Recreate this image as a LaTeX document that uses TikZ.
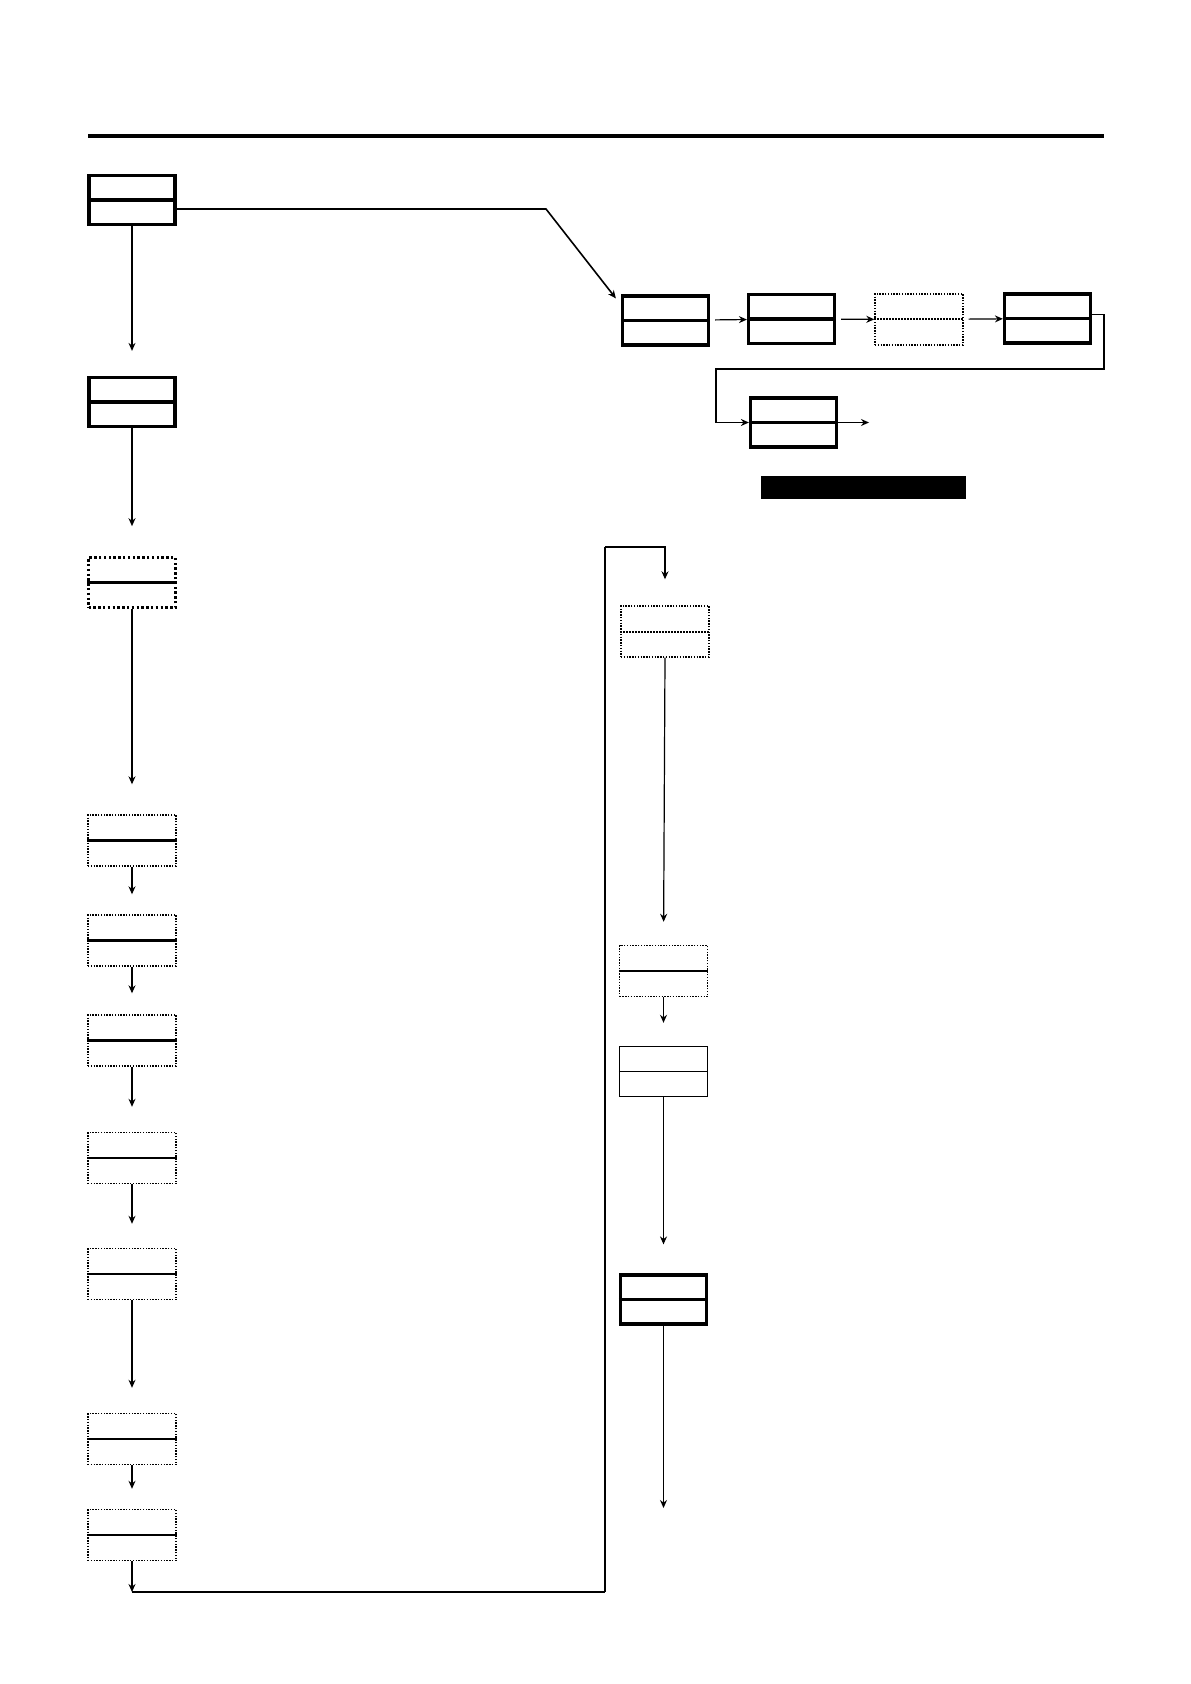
\documentclass[tikz,border=0pt]{standalone}
\usetikzlibrary{arrows.meta}
\begin{document}
\begin{tikzpicture}[x=0.5pt,y=-0.5pt,
	arr/.style={line width=0.6pt,-{Stealth[length=4pt,width=3.5pt]}},
	thickbox/.style={draw,line width=1.6pt,minimum width=43pt,minimum height=24.5pt,inner sep=0pt},
	thinbox/.style={draw,line width=0.7pt,minimum width=44pt,minimum height=25pt,inner sep=0pt},
	dotbox/.style={draw,line width=0.7pt,dash pattern=on 0.7pt off 0.7pt,minimum width=44pt,minimum height=25.5pt,inner sep=0pt},
	bigdotbox/.style={draw,line width=1.3pt,dash pattern=on 1.2pt off 1.2pt,minimum width=43.5pt,minimum height=25pt,inner sep=0pt}]
	\useasboundingbox (0,0) rectangle (1190,1684);
	
	\draw [line width=2pt] (88,136) -- (1104,136);
	
	% left column
	\node[thickbox] (b1) at (132,200) {};
	\node[thickbox] (b2) at (132,402) {};
	\node[bigdotbox] (b3) at (132,582.5) {};
	\foreach \n/\y in {b4/840.5,b5/940.5,b6/1040.5,b7/1158,b8/1274,b9/1439,b10/1535} {
		\node[dotbox] (\n) at (132,\y) {};
	}
	
	% top row
	\node[thickbox] (a) at (665.5,320.5) {};
	\node[thickbox] (b) at (791.5,319) {};
	\node[dotbox] (c) at (919,319.5) {};
	\node[thickbox] (d) at (1047.5,318.5) {};
	\node[thickbox] (e) at (793.5,422.5) {};
	\node[fill,minimum width=102.5pt,minimum height=11.5pt,inner sep=0pt] (bar) at (863.5,487.5) {};
	
	% right column
	\node[dotbox] (f) at (665,631.5) {};
	\node[dotbox] (g) at (663.5,971) {};
	\node[thinbox] (h) at (663.5,1071.5) {};
	\node[thickbox] (i) at (663.5,1299.5) {};
	
	% split lines
	\foreach \n in {b1,b2,a,b,d,e,i} {
		\draw [line width=1.6pt] (\n.west) -- (\n.east);
	}
	\foreach \n in {b3,b4,b5,b6,b7,b8,b10} {
		\draw [line width=1.1pt] (\n.west) -- (\n.east);
	}
	\foreach \n in {b9,g,h} {
		\draw [line width=0.6pt] (\n.west) -- (\n.east);
	}
	\foreach \n in {c,f} {
		\draw [line width=1pt,dash pattern=on 0.9pt off 0.6pt] (\n.west) -- (\n.east);
	}
	
	% arrows
	\foreach \p/\q/\g in {b1/b2/12.5,b2/b3/15,b3/b4/15,b4/b5/10,b5/b6/10.5,b6/b7/12.5,b7/b8/12,b8/b9/12.5,b9/b10/10,f/g/11.5,g/h/11.5,h/i/14.5} {
		\draw [arr,shorten >=\g pt] (\p.south) -- (\q.north);
	}
	\foreach \p/\q in {a/b,b/c,c/d} {
		\draw [arr,shorten <=2.5pt] (\p) -- (\q);
	}
	
	\coordinate (bend) at (546,209);
	\draw [arr,line width=0.8pt] ([yshift=-4.5pt]b1.east) -- (bend) -- ([xshift=-2.5pt,yshift=-2pt]a.north west);
	
	\coordinate (ret) at (716,369);
	\draw [arr,line width=0.8pt] ([yshift=2pt]d.east) -- ++(12,0) |- (ret) |- (e.west);
	\coordinate (eout) at (869,422.5);
	\draw [arr] (e.east) -- (eout);
	
	\coordinate (down) at (132,1592);
	\coordinate (loopa) at (605,1592);
	\coordinate (loopb) at (605,547);
	\draw [arr] (b10.south) -- (down);
	\draw [line width=1pt] (down) -- (loopa);
	\draw [line width=0.7pt] (loopa) -- (loopb);
	\draw [arr,line width=1pt,shorten >=13pt] (loopb) -| (f.north);
	
	\coordinate (iout) at (663.5,1508);
	\draw [arr] (i.south) -- (iout);
\end{tikzpicture}
\end{document}
